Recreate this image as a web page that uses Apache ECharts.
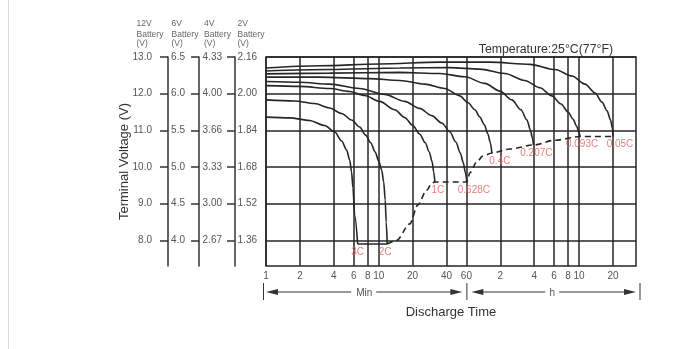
<!DOCTYPE html>
<html><head><meta charset="utf-8">
<script src="https://cdn.jsdelivr.net/npm/echarts@6/dist/echarts.min.js"></script>
<style>html,body{margin:0;padding:0;background:#fff}#c{width:697px;height:349px}</style>
</head><body><div id="c"></div>
<script>
// ---- data ----
const X_TICKS = [1, 2, 4, 6, 8, 10, 20, 40, 60, 120, 240, 360, 480, 600, 1200]; // minutes
const X_LABELS = ['1', '2', '4', '6', '8', '10', '20', '40', '60', '2', '4', '6', '8', '10', '20'];
const V_TICKS = [8, 9, 10, 11, 12, 13];
const LABELS_12V = ['8.0', '9.0', '10.0', '11.0', '12.0', '13.0'];
const LABELS_6V = ['4.0', '4.5', '5.0', '5.5', '6.0', '6.5'];
const LABELS_4V = ['2.67', '3.00', '3.33', '3.66', '4.00', '4.33'];
const LABELS_2V = ['1.36', '1.52', '1.68', '1.84', '2.00', '2.16'];
const RATES = ['3C', '2C', '1C', '0.628C', '0.4C', '0.207C', '0.093C', '0.05C'];

// [minutes, volts (12V battery)]
const curve_3C = [[1, 11.36], [1.62, 11.34], [2.44, 11.27], [3.31, 11.13], [4.06, 10.96], [4.69, 10.71], [5.2, 10.46], [5.53, 10.19], [5.75, 9.86], [5.91, 9.43], [6.12, 8.69], [6.51, 7.9]];
const curve_2C = [[1, 11.83], [1.79, 11.8], [2.7, 11.73], [3.67, 11.61], [4.69, 11.46], [5.75, 11.28], [6.78, 11.09], [7.66, 10.87], [8.49, 10.66], [9.31, 10.41], [10.0, 10.16], [10.63, 9.92], [11.08, 9.59], [11.42, 9.1], [11.66, 8.5], [11.9, 7.9]];
const curve_1C = [[1, 12.22], [1.99, 12.2], [3.67, 12.14], [5.53, 12.06], [7.51, 11.95], [10.2, 11.79], [13.9, 11.56], [17.0, 11.35], [20.1, 11.13], [23.1, 10.9], [25.9, 10.66], [28.1, 10.41], [29.8, 10.14], [30.8, 9.86], [31.5, 9.59]];
const curve_0628C = [[1, 12.33], [1.99, 12.31], [3.67, 12.26], [6.78, 12.14], [11.3, 11.98], [17.0, 11.79], [23.1, 11.6], [29.6, 11.4], [36.3, 11.2], [42.8, 10.96], [48.4, 10.68], [53.0, 10.38], [56.4, 10.11], [58.7, 9.86], [60.6, 9.59]];
const curve_04C = [[1, 12.45], [2.99, 12.45], [8.3, 12.41], [15.4, 12.36], [25.6, 12.26], [38.6, 12.14], [52.5, 11.94], [61.8, 11.76], [71.4, 11.56], [79.0, 11.36], [86.7, 11.15], [93.1, 10.9], [98.0, 10.66], [101, 10.38]];
const curve_0207C = [[1, 12.54], [3.67, 12.56], [15.4, 12.58], [34.9, 12.55], [58.1, 12.46], [87.6, 12.28], [119, 12.07], [152, 11.83], [183, 11.56], [207, 11.28], [222, 11.01], [231.5, 10.79], [236, 10.6]];
const curve_0093C = [[1, 12.62], [3.67, 12.66], [15.4, 12.7], [42.8, 12.71], [79, 12.67], [132, 12.55], [198, 12.36], [270, 12.16], [345, 11.94], [415, 11.72], [479, 11.5], [530, 11.31], [570, 11.12], [600, 10.93], [612, 10.83]];
const curve_005C = [[1, 12.7], [2.99, 12.76], [10.2, 12.81], [34.9, 12.86], [97, 12.86], [220, 12.8], [367, 12.66], [520, 12.48], [678, 12.26], [832, 12.02], [960, 11.77], [1063, 11.53], [1142, 11.28], [1185, 11.06], [1200, 10.83]];

const endLine_solid = [[6.51, 7.9], [11.9, 7.9]];
const endLine_dashed = [[11.9, 7.9], [14.4, 8.0], [18.9, 8.45], [22.2, 8.96], [26.7, 9.37], [29.6, 9.56], [31.5, 9.59], [60.6, 9.59], [64.4, 9.84], [74.3, 10.14], [84, 10.3], [101, 10.38], [146, 10.49], [236, 10.6], [367, 10.73], [612, 10.83], [1200, 10.83]];

const X_MIN = 1, X_MAX = 1920, V_MIN = 7.3, V_MAX = 13;

// ---- styles (not data) ----
const CURVES = [curve_3C, curve_2C, curve_1C, curve_0628C, curve_04C, curve_0207C, curve_0093C, curve_005C];
const LABEL_DX = { '3C': 0, '2C': -2, '1C': 3, '0.628C': 7, '0.4C': 8, '0.207C': 3, '0.093C': 2, '0.05C': 7 };
const INK = '#262626', TXT = '#555', RED = '#d9605c';
const FONT = 'Liberation Sans, Arial, sans-serif';
const GRID_LEFT = 266, GRID_RIGHT = 61, GRID_TOP = 57, GRID_BOTTOM = 83;

function lookup(ticks, labels) {
  return v => { const i = ticks.findIndex(t => Math.abs(t - v) < 1e-6); return i >= 0 ? labels[i] : ''; };
}
function vAxis(labels, offset, margin, showLine, extra) {
  return Object.assign({
    type: 'value', position: 'left', offset: offset, min: V_MIN, max: V_MAX,
    axisLine: { show: showLine, lineStyle: { color: '#333', width: 1.5 } },
    axisTick: { show: showLine, length: 8, customValues: V_TICKS, lineStyle: { color: '#333', width: 1.5 } },
    axisLabel: { customValues: V_TICKS, formatter: lookup(V_TICKS, labels), margin: margin, fontSize: 10, color: TXT, fontFamily: FONT },
    splitLine: { show: false }
  }, extra || {});
}

const chart = echarts.init(document.getElementById('c'), null, { renderer: 'canvas' });

const series = CURVES.map((d, i) => ({
  type: 'line', name: RATES[i], data: d, showSymbol: false, smooth: 0.3, smoothMonotone: 'x',
  lineStyle: { color: INK, width: 1.6 }, silent: true, z: 3
}));
series.push({ type: 'line', data: endLine_solid, showSymbol: false, lineStyle: { color: INK, width: 1.6 }, silent: true, z: 3 });
series.push({ type: 'line', data: endLine_dashed, showSymbol: false, smooth: 0.3, smoothMonotone: 'x',
  lineStyle: { color: INK, width: 1.6, type: [6, 4] }, silent: true, z: 3 });
series.push({
  type: 'scatter', symbolSize: 0, silent: true, z: 4,
  data: CURVES.map((d, i) => ({ value: [d[d.length - 1][0], d[d.length - 1][1], RATES[i]],
    label: { offset: [LABEL_DX[RATES[i]], 0] } })),
  label: { show: true, position: 'bottom', distance: 3, formatter: p => p.value[2], color: RED, fontSize: 10, fontFamily: FONT }
});

chart.setOption({
  animation: false,
  backgroundColor: '#fff',
  title: { text: 'Temperature:25°C(77°F)', right: 84, top: 44, padding: 0,
    textStyle: { fontSize: 12.3, fontWeight: 'normal', color: '#333', fontFamily: FONT } },
  grid: { left: GRID_LEFT, right: GRID_RIGHT, top: GRID_TOP, bottom: GRID_BOTTOM, show: true, borderColor: INK, borderWidth: 1.5, backgroundColor: 'transparent' },
  xAxis: {
    type: 'log', logBase: 10, min: X_MIN, max: X_MAX,
    name: 'Discharge Time', nameLocation: 'middle', nameGap: 40, nameMoveOverlap: false,
    nameTextStyle: { fontSize: 13, color: '#333', fontFamily: FONT },
    axisLine: { show: false },
    axisTick: { show: false, customValues: X_TICKS },
    minorTick: { show: false }, minorSplitLine: { show: false },
    axisLabel: { customValues: X_TICKS, formatter: lookup(X_TICKS, X_LABELS), margin: 5, fontSize: 10, color: TXT, fontFamily: FONT },
    splitLine: { show: true, lineStyle: { color: INK, width: 1.5 } }
  },
  yAxis: [
    vAxis(LABELS_2V, 0, 9, false, { splitLine: { show: true, lineStyle: { color: INK, width: 1.5 } } }),
    vAxis(LABELS_4V, 31, 13, true),
    vAxis(LABELS_6V, 67, 14, true),
    vAxis(LABELS_12V, 98, 16, true, { name: 'Terminal Voltage (V)', nameLocation: 'middle', nameGap: 37, nameRotate: 90, nameMoveOverlap: false,
      nameTextStyle: { fontSize: 13, color: '#333', fontFamily: FONT } })
  ],
  series: series
});

// ---- annotations positioned through the axes ----
const px = v => chart.convertToPixel({ xAxisIndex: 0 }, v);
const py = v => chart.convertToPixel({ yAxisIndex: 0 }, v);
const p1 = px(X_MIN), p60 = px(60), pEnd = px(X_MAX);
const yRow = py(V_MIN) + 26;
const AC = '#333';
const g = [];
function line(x1, y1, x2, y2, w) { g.push({ type: 'line', silent: true, shape: { x1, y1, x2, y2 }, style: { stroke: AC, lineWidth: w || 1 } }); }
function head(tip, dir) { g.push({ type: 'polygon', silent: true, shape: { points: [[tip, yRow], [tip + dir * 12, yRow - 3], [tip + dir * 12, yRow + 3]] }, style: { fill: AC } }); }
function txt(t, x, y, size, color, align) { g.push({ type: 'text', silent: true, x: x, y: y, style: { text: t, fill: color || TXT, font: (size || 10) + 'px "Liberation Sans", Arial, sans-serif', textAlign: align || 'center', textVerticalAlign: 'middle' } }); }

// bars
line(p1 - 2.5, yRow - 9, p1 - 2.5, yRow + 8);
line(p60 + 0.5, yRow - 9, p60 + 0.5, yRow + 8);
line(pEnd + 4, yRow - 9, pEnd + 4, yRow + 8);
// Min arrow
const mMid = (p1 + p60) / 2 - 2;
head(p1 + 0, 1); line(p1 + 6, yRow, mMid - 13, yRow); line(mMid + 12, yRow, p60 - 8, yRow); head(p60 - 4, -1);
txt('Min', mMid, yRow + 1);
// h arrow
const hMid = (p60 + pEnd) / 2 + 1;
head(p60 + 5, 1); line(p60 + 10, yRow, hMid - 7, yRow); line(hMid + 7, yRow, pEnd - 5, yRow); head(pEnd, -1);
txt('h', hMid, yRow + 1);
// battery headers
const headers = [['12V', GRID_LEFT - 98 - 31.5], ['6V', GRID_LEFT - 67 - 27.5], ['4V', GRID_LEFT - 31 - 31], ['2V', GRID_LEFT - 28.5]];
headers.forEach(([v, x]) => {
  txt(v, x, 24, 8.5, '#666', 'left');
  txt('Battery', x, 34.5, 8.5, '#666', 'left');
  txt('(V)', x, 44, 8.5, '#666', 'left');
});
// page border line
g.push({ type: 'line', silent: true, shape: { x1: 8.5, y1: 0, x2: 8.5, y2: 349 }, style: { stroke: '#dcdcdc', lineWidth: 1 } });

chart.setOption({ graphic: g });
</script>
</body></html>
